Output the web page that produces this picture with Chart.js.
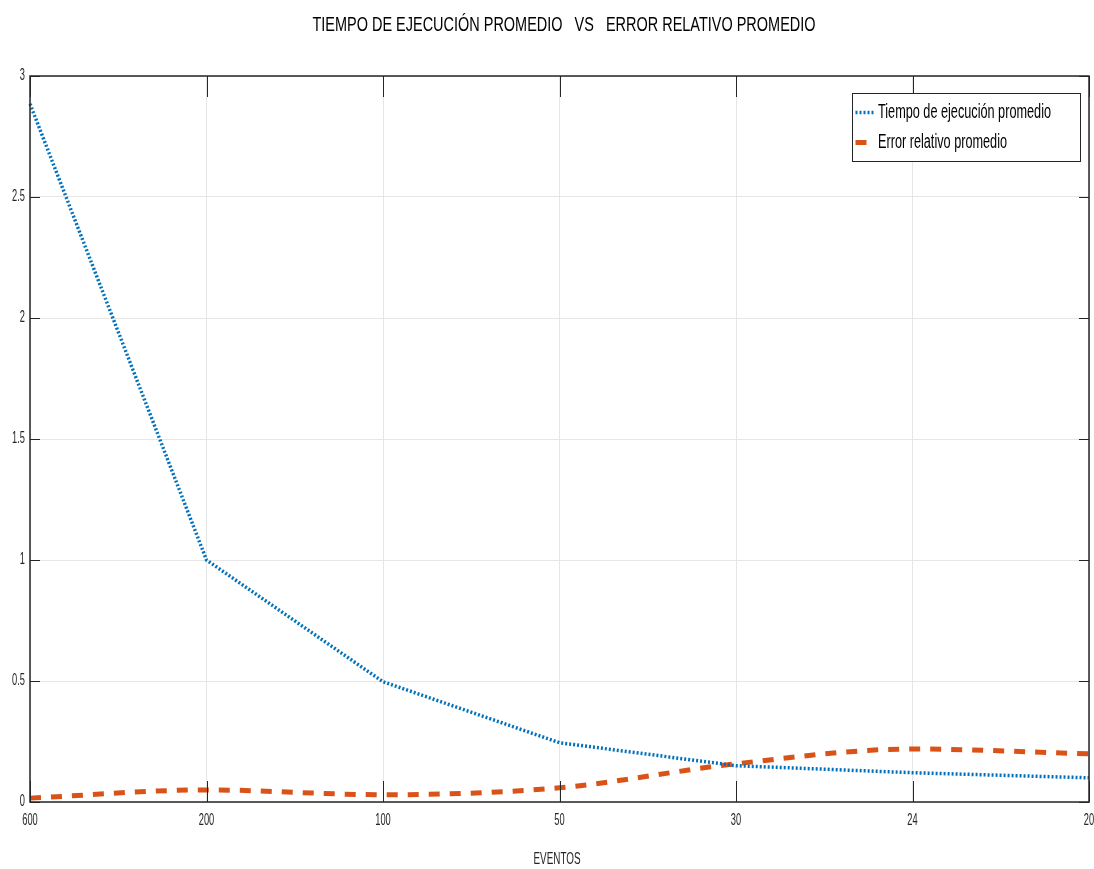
<!DOCTYPE html>
<html>
<head>
<meta charset="utf-8">
<script src="https://cdn.jsdelivr.net/npm/chart.js@4"></script>
<style>
  html, body { margin: 0; padding: 0; background: #fff; }
  #wrap { width: 1094px; height: 869px; }
</style>
</head>
<body>
<div id="wrap"><canvas id="chart"></canvas></div>
<script>
const eventos = ['600', '200', '100', '50', '30', '24', '20'];
const tiempoPromedio = [2.885, 1.0, 0.497, 0.245, 0.15, 0.121, 0.1];
const errorPromedio = [0.016, 0.05, 0.03, 0.059, 0.158, 0.219, 0.199];
const yTicks = [0, 0.5, 1, 1.5, 2, 2.5, 3];

const FONT = "'Liberation Sans', Arial, sans-serif";
const BLUE = '#0072BD';
const ORANGE = '#D95319';
const INK = '#262626';

// texto estrecho (la figura original usa una fuente condensada)
function narrowText(ctx, text, x, y, size, sx, align) {
  ctx.save();
  ctx.font = size + 'px ' + FONT;
  ctx.textBaseline = 'middle';
  ctx.textAlign = align;
  ctx.translate(x, y);
  ctx.scale(sx, 1);
  ctx.fillText(text, 0, 0);
  ctx.restore();
}

function fitScale(ctx, text, size, width) {
  ctx.save();
  ctx.font = size + 'px ' + FONT;
  const w = ctx.measureText(text).width;
  ctx.restore();
  return width / w;
}

// titulo, etiquetas, marcas interiores y leyenda con borde (estilo MATLAB)
const matlabStyle = {
  id: 'matlabStyle',
  afterDraw(chart) {
    const { ctx, chartArea: a, scales } = chart;
    ctx.save();
    ctx.fillStyle = '#000';
    const title = 'TIEMPO DE EJECUCIÓN PROMEDIO   VS   ERROR RELATIVO PROMEDIO';
    narrowText(ctx, title, 564, 25, 20, fitScale(ctx, title, 20, 503), 'center');

    ctx.fillStyle = INK;
    eventos.forEach((e, i) => {
      narrowText(ctx, e, scales.x.getPixelForValue(i), 821, 16, 0.58, 'center');
    });
    yTicks.forEach(v => {
      narrowText(ctx, String(v), 25, scales.y.getPixelForValue(v), 16, 0.58, 'right');
    });
    narrowText(ctx, 'EVENTOS', 557, 860, 16, fitScale(ctx, 'EVENTOS', 16, 47), 'center');

    ctx.strokeStyle = INK;
    ctx.lineWidth = 1;
    ctx.beginPath();
    eventos.forEach((e, i) => {
      const x = Math.round(scales.x.getPixelForValue(i)) + 0.5;
      ctx.moveTo(x, a.bottom); ctx.lineTo(x, a.bottom - 21);
      ctx.moveTo(x, a.top); ctx.lineTo(x, a.top + 21);
    });
    yTicks.forEach(v => {
      const y = Math.round(scales.y.getPixelForValue(v)) + 0.5;
      ctx.moveTo(a.left, y); ctx.lineTo(a.left + 10, y);
      ctx.moveTo(a.right, y); ctx.lineTo(a.right - 10, y);
    });
    ctx.stroke();
    ctx.lineWidth = 1.5;
    ctx.strokeRect(a.left, a.top, a.right - a.left, a.bottom - a.top);

    // leyenda
    const lx = 852.5, ly = 93.5, lw = 228, lh = 68;
    ctx.fillStyle = '#fff';
    ctx.fillRect(lx, ly, lw, lh);
    ctx.strokeStyle = INK;
    ctx.lineWidth = 1;
    ctx.strokeRect(lx, ly, lw, lh);
    const legScale = fitScale(ctx, chart.data.datasets[0].label, 20, 173);
    chart.data.datasets.forEach((ds, i) => {
      const y = ly + 19 + i * 30;
      ctx.strokeStyle = ds.borderColor;
      ctx.lineWidth = ds.borderWidth;
      ctx.setLineDash(ds.borderDash);
      ctx.beginPath();
      ctx.moveTo(lx + 3, y); ctx.lineTo(lx + (i === 0 ? 21 : 14), y);
      ctx.stroke();
      ctx.setLineDash([]);
      ctx.fillStyle = '#000';
      narrowText(ctx, ds.label, lx + 25.5, y, 20, legScale, 'left');
    });
    ctx.restore();
  }
};

new Chart(document.getElementById('chart'), {
  type: 'line',
  data: {
    labels: eventos,
    datasets: [{
      label: 'Tiempo de ejecución promedio',
      data: tiempoPromedio,
      borderColor: BLUE,
      borderWidth: 3.5,
      borderDash: [2, 2],
      tension: 0,
      pointRadius: 0,
      fill: false
    }, {
      label: 'Error relativo promedio',
      data: errorPromedio,
      borderColor: ORANGE,
      borderWidth: 5,
      borderDash: [11, 10],
      cubicInterpolationMode: 'monotone',
      pointRadius: 0,
      fill: false
    }]
  },
  options: {
    responsive: true,
    maintainAspectRatio: false,
    animation: false,
    layout: { padding: { top: 76, right: 5, left: 0, bottom: 0 } },
    scales: {
      x: {
        offset: false,
        grid: { color: '#e6e6e6', drawTicks: false },
        border: { display: false },
        ticks: { display: false },
        afterFit(scale) {
          scale.height = 67;
          scale.paddingLeft = 0;
          scale.paddingRight = 0;
        }
      },
      y: {
        min: 0,
        max: 3,
        afterBuildTicks(scale) { scale.ticks = yTicks.map(v => ({ value: v })); },
        grid: { color: '#e6e6e6', drawTicks: false },
        border: { display: false },
        ticks: { display: false },
        afterFit(scale) {
          scale.width = 30;
          scale.paddingTop = 0;
          scale.paddingBottom = 0;
        }
      }
    },
    plugins: {
      legend: { display: false },
      title: { display: false },
      tooltip: { enabled: false }
    }
  },
  plugins: [matlabStyle]
});
</script>
</body>
</html>
